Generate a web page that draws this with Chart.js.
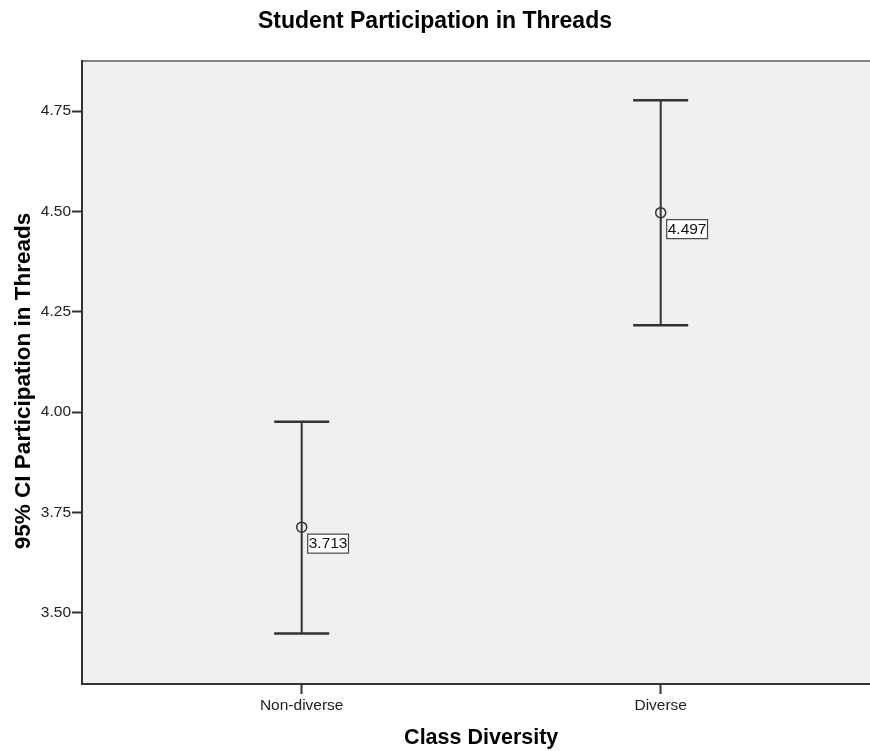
<!DOCTYPE html>
<html>
<head>
<meta charset="utf-8">
<title>Student Participation in Threads</title>
<script src="https://cdn.jsdelivr.net/npm/chart.js@4/dist/chart.umd.min.js"></script>
<style>
  html, body { margin: 0; padding: 0; background: #ffffff; overflow: hidden; }
  canvas { display: block; }
</style>
</head>
<body>
<canvas id="chart" width="870" height="751"></canvas>
<script>
// Group means with their 95% confidence intervals
const categories = ['Non-diverse', 'Diverse'];
const means = [3.713, 4.497];
const ciLower = [3.448, 4.216];
const ciUpper = [3.976, 4.777];
const yTicks = [3.50, 3.75, 4.00, 4.25, 4.50, 4.75];

const chartTitle = 'Student Participation in Threads';
const xTitle = 'Class Diversity';
const yTitle = '95% CI Participation in Threads';

const FONT = '"Liberation Sans", Arial, sans-serif';
const INK = '#333333';

// Grey plot panel with a lighter top frame line
const plotBackground = {
  id: 'plotBackground',
  beforeDraw(chart) {
    const { ctx, chartArea: a } = chart;
    ctx.save();
    ctx.fillStyle = '#f0f0f0';
    ctx.fillRect(a.left, a.top, a.right - a.left, a.bottom - a.top);
    ctx.strokeStyle = '#808080';
    ctx.lineWidth = 2;
    ctx.beginPath();
    ctx.moveTo(a.left, a.top);
    ctx.lineTo(a.right, a.top);
    ctx.stroke();
    ctx.restore();
  }
};

// Whiskers from the lower to the upper CI bound, with caps
const errorBars = {
  id: 'errorBars',
  beforeDatasetsDraw(chart) {
    const { ctx, scales: { x, y } } = chart;
    const capHalf = 27.5;
    ctx.save();
    ctx.strokeStyle = INK;
    categories.forEach((c, i) => {
      const px = x.getPixelForValue(i);
      const yLo = y.getPixelForValue(ciLower[i]);
      const yHi = y.getPixelForValue(ciUpper[i]);
      ctx.lineWidth = 2;
      ctx.beginPath();
      ctx.moveTo(px, yHi);
      ctx.lineTo(px, yLo);
      ctx.stroke();
      ctx.lineWidth = 2.5;
      ctx.beginPath();
      ctx.moveTo(px - capHalf, yHi);
      ctx.lineTo(px + capHalf, yHi);
      ctx.moveTo(px - capHalf, yLo);
      ctx.lineTo(px + capHalf, yLo);
      ctx.stroke();
    });
    ctx.restore();
  }
};

// Boxed value label next to each mean
const meanLabels = {
  id: 'meanLabels',
  afterDatasetsDraw(chart) {
    const { ctx, scales: { x, y } } = chart;
    ctx.save();
    ctx.font = '15.5px ' + FONT;
    ctx.textBaseline = 'middle';
    ctx.textAlign = 'left';
    means.forEach((m, i) => {
      const px = x.getPixelForValue(i);
      const py = y.getPixelForValue(m);
      const text = m.toFixed(3);
      const w = ctx.measureText(text).width + 2;
      const h = 19;
      const bx = px + 6;
      const by = py + 7;
      ctx.fillStyle = '#ffffff';
      ctx.fillRect(bx, by, w, h);
      ctx.strokeStyle = '#444444';
      ctx.lineWidth = 1.2;
      ctx.strokeRect(bx, by, w, h);
      ctx.fillStyle = '#111111';
      ctx.fillText(text, bx + 1, by + h / 2 + 0.5);
    });
    ctx.restore();
  }
};

// Axis titles
const axisTitles = {
  id: 'axisTitles',
  afterDraw(chart) {
    const { ctx, scales: { x } } = chart;
    ctx.save();
    ctx.fillStyle = '#000000';
    ctx.textAlign = 'center';
    ctx.textBaseline = 'middle';
    ctx.font = 'bold 21.5px ' + FONT;
    ctx.fillText(xTitle, x.getPixelForValue(0.5), 738);
    ctx.translate(24, 381);
    ctx.rotate(-Math.PI / 2);
    ctx.font = 'bold 22.5px ' + FONT;
    ctx.fillText(yTitle, 0, 0);
    ctx.restore();
  }
};

new Chart(document.getElementById('chart'), {
  type: 'scatter',
  data: {
    datasets: [{
      label: 'Mean',
      data: means.map((m, i) => ({ x: i, y: m })),
      pointStyle: 'circle',
      pointRadius: 5,
      pointHoverRadius: 5,
      pointBorderWidth: 1.5,
      pointBorderColor: INK,
      pointBackgroundColor: 'rgba(0,0,0,0)',
      showLine: false
    }]
  },
  options: {
    responsive: false,
    animation: false,
    events: [],
    layout: { padding: 0, autoPadding: false },
    plugins: {
      legend: { display: false },
      tooltip: { enabled: false },
      title: {
        display: true,
        text: chartTitle,
        color: '#000000',
        font: { family: FONT, size: 23, weight: 'bold', lineHeight: 1.2 },
        padding: { top: 8, bottom: 25.4 }
      }
    },
    scales: {
      x: {
        type: 'linear',
        min: -0.612,
        max: 1.583,
        afterBuildTicks(scale) {
          scale.ticks = categories.map((c, i) => ({ value: i }));
        },
        afterFit(scale) {
          scale.height = 67;
          scale.paddingLeft = 0;
          scale.paddingRight = 0;
        },
        ticks: {
          autoSkip: false,
          maxRotation: 0,
          padding: 2,
          color: '#222222',
          font: { family: FONT, size: 15.5 },
          callback: (v) => categories[v]
        },
        grid: {
          drawOnChartArea: false,
          drawTicks: true,
          tickLength: 10,
          tickColor: INK,
          tickWidth: 2
        },
        border: { display: true, color: INK, width: 2 }
      },
      y: {
        type: 'linear',
        min: 3.322,
        max: 4.875,
        afterBuildTicks(scale) {
          scale.ticks = yTicks.map(v => ({ value: v }));
        },
        afterFit(scale) {
          scale.width = 82;
          scale.paddingTop = 0;
          scale.paddingBottom = 0;
        },
        ticks: {
          padding: 1,
          color: '#222222',
          font: { family: FONT, size: 15.5 },
          callback: (v) => Number(v).toFixed(2)
        },
        grid: {
          drawOnChartArea: false,
          drawTicks: true,
          tickLength: 10,
          tickColor: INK,
          tickWidth: 2
        },
        border: { display: true, color: INK, width: 2 }
      }
    }
  },
  plugins: [plotBackground, errorBars, meanLabels, axisTitles]
});
</script>
</body>
</html>
